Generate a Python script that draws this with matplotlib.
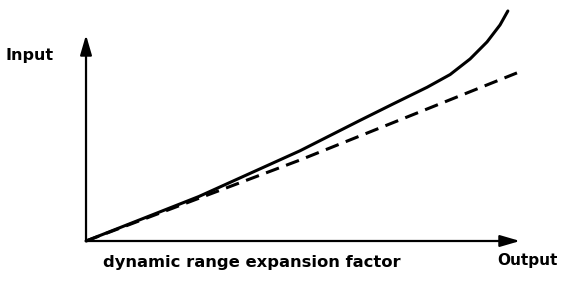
import matplotlib.pyplot as plt

# values (output on x, input on y, arbitrary units 0..10)
solid_x = [0.0, 2.60, 4.93, 6.31, 7.07, 7.86, 8.39, 8.85, 9.24, 9.54, 9.72]
solid_y = [0.0, 2.17, 4.40, 5.88, 6.68, 7.50, 8.12, 8.88, 9.71, 10.54, 11.22]
dashed_x = [0.0, 4.93, 9.93]
dashed_y = [0.0, 3.95, 8.20]

x_label = "dynamic range expansion factor"

fig = plt.figure(figsize=(5.71, 2.82), dpi=100)
ax = fig.add_axes([0, 0, 1, 1])
ax.set_xlim(-1.982, 11.175)
ax.set_ylim(-2.0, 11.756)
ax.axis("off")

arrow = dict(arrowstyle="-|>,head_length=1.2,head_width=0.35", lw=1.6,
             color="k", mutation_scale=10, shrinkA=0, shrinkB=0)
ax.annotate("", xy=(10.0, 0), xytext=(0, 0), arrowprops=arrow)
ax.annotate("", xy=(0, 10.05), xytext=(0, 0), arrowprops=arrow)

ax.plot(solid_x, solid_y, color="k", lw=2.2, solid_capstyle="round",
        solid_joinstyle="round")
ax.plot(dashed_x, dashed_y, color="k", lw=2.2, ls=(0, (4.5, 2.5)))

ax.text(-1.29, 9.07, "Input", ha="center", va="center", fontsize=11.5,
        fontweight="bold")
ax.text(3.82, -1.07, x_label, ha="center", va="center", fontsize=11.8,
        fontweight="bold")
ax.text(10.16, -0.93, "Output", ha="center", va="center", fontsize=11,
        fontweight="bold")

fig.savefig("out.png", dpi=100)
plt.close(fig)
